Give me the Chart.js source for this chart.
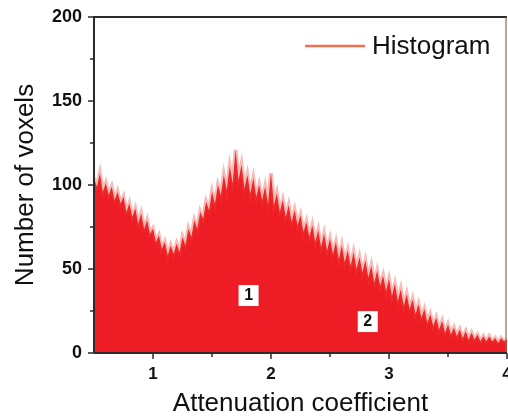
<!DOCTYPE html>
<html>
<head>
<meta charset="utf-8">
<script src="https://cdn.jsdelivr.net/npm/chart.js@4.4.1/dist/chart.umd.min.js"></script>
<style>
  html, body { margin: 0; padding: 0; background: #fff; }
  #wrap { width: 508px; height: 419px; }
</style>
</head>
<body>
<div id="wrap"><canvas id="hist"></canvas></div>
<script>
// attenuation coefficient bins (step 0.025) and voxel counts
const coeffStart = 0.5;
const coeffStep = 0.025;
const voxelCounts = [
  104, 99, 107, 96, 101, 94, 99, 91, 96, 89,
  93, 84, 89, 81, 86, 77, 83, 74, 79, 71,
  74, 66, 70, 62, 66, 58, 64, 59, 65, 60,
  69, 64, 74, 69, 79, 74, 84, 80, 90, 85,
  96, 89, 100, 94, 106, 97, 111, 101, 121, 103,
  112, 98, 106, 95, 104, 93, 100, 91, 99, 89,
  107, 88, 95, 84, 91, 81, 88, 78, 85, 76,
  82, 72, 78, 69, 76, 66, 73, 63, 71, 61,
  68, 59, 66, 56, 64, 54, 61, 52, 60, 50,
  57, 48, 55, 45, 52, 42, 49, 40, 46, 37,
  44, 34, 41, 31, 38, 28, 35, 26, 32, 23,
  29, 21, 26, 18, 23, 16, 21, 14, 19, 12,
  17, 11, 15, 10, 14, 9, 13, 8, 12, 8,
  11, 7, 10, 7, 10, 7, 9, 6, 9, 7,
  8
];
const xMajorTicks = [1, 2, 3, 4];
const xMinorTicks = [1.5, 2.5, 3.5];
const yMajorTicks = [0, 50, 100, 150, 200];
const yMinorTicks = [25, 75, 125, 175];
const regionLabels = ['1', '2'];
const regionX = [1.81, 2.82];
const regionY = [34.5, 19];
const legendText = 'Histogram';

const points = voxelCounts.map((v, i) => ({ x: coeffStart + i * coeffStep, y: v }));

const axisColor = '#2b2b2b';
const fontFamily = '"Liberation Sans", Arial, sans-serif';

const frameAndTicks = {
  id: 'frameAndTicks',
  afterDraw(chart) {
    const { ctx, chartArea: a, scales } = chart;
    ctx.save();
    ctx.strokeStyle = axisColor;
    ctx.lineWidth = 2;
    ctx.beginPath();
    ctx.moveTo(a.left, a.bottom);
    ctx.lineTo(a.left, a.top);
    ctx.lineTo(a.right, a.top);
    ctx.stroke();
    ctx.lineWidth = 1.2;
    ctx.strokeStyle = '#8a6a60';
    ctx.beginPath();
    ctx.moveTo(a.right - 1, a.top);
    ctx.lineTo(a.right - 1, a.bottom);
    ctx.stroke();
    ctx.strokeStyle = axisColor;
    ctx.lineWidth = 2;
    ctx.beginPath();
    ctx.moveTo(a.left, a.bottom);
    ctx.lineTo(a.right, a.bottom);
    ctx.stroke();

    ctx.lineWidth = 1.5;
    ctx.beginPath();
    xMajorTicks.forEach(v => {
      const px = scales.x.getPixelForValue(v);
      ctx.moveTo(px, a.bottom); ctx.lineTo(px, a.bottom + 6);
    });
    xMinorTicks.forEach(v => {
      const px = scales.x.getPixelForValue(v);
      ctx.moveTo(px, a.bottom); ctx.lineTo(px, a.bottom + 4);
    });
    yMajorTicks.forEach(v => {
      const py = scales.y.getPixelForValue(v);
      ctx.moveTo(a.left, py); ctx.lineTo(a.left - 6, py);
    });
    yMinorTicks.forEach(v => {
      const py = scales.y.getPixelForValue(v);
      ctx.moveTo(a.left, py); ctx.lineTo(a.left - 4, py);
    });
    ctx.stroke();

    // numbered region boxes
    ctx.font = 'bold 16px ' + fontFamily;
    ctx.textAlign = 'center';
    ctx.textBaseline = 'middle';
    regionLabels.forEach((t, i) => {
      const px = scales.x.getPixelForValue(regionX[i]);
      const py = scales.y.getPixelForValue(regionY[i]);
      ctx.fillStyle = '#ffffff';
      ctx.fillRect(px - 10, py - 10, 20, 21);
      ctx.fillStyle = '#111';
      ctx.fillText(t, px, py + 1);
    });

    // legend, inside the plot at the top right
    const ly = a.top + 29;
    ctx.strokeStyle = '#f4714f';
    ctx.lineWidth = 2.5;
    ctx.beginPath();
    ctx.moveTo(a.right - 202, ly);
    ctx.lineTo(a.right - 142, ly);
    ctx.stroke();
    ctx.font = '26px ' + fontFamily;
    ctx.fillStyle = '#111';
    ctx.textAlign = 'left';
    ctx.fillText(legendText, a.right - 135, ly + 1);
    ctx.restore();
  }
};

new Chart(document.getElementById('hist'), {
  type: 'line',
  data: {
    datasets: [{
      label: legendText,
      data: points,
      borderColor: 'rgba(238, 60, 50, 0.35)',
      borderWidth: 4,
      backgroundColor: '#ee1c24',
      fill: 'origin',
      pointRadius: 0,
      tension: 0
    }]
  },
  options: {
    responsive: true,
    maintainAspectRatio: false,
    animation: false,
    clip: false,
    layout: { padding: { left: 0, right: 1, top: 17, bottom: 0 } },
    plugins: {
      tooltip: { enabled: false },
      legend: { display: false }
    },
    scales: {
      x: {
        type: 'linear',
        min: 0.5,
        max: 4,
        afterBuildTicks: s => { s.ticks = xMajorTicks.map(v => ({ value: v })); },
        afterFit: s => { s.height = 66; s.paddingRight = 0; s.paddingLeft = 0; },
        grid: { display: false },
        border: { display: false },
        ticks: {
          padding: 3,
          color: '#111',
          font: { family: fontFamily, size: 17, weight: 'bold' }
        },
        title: {
          display: true,
          text: 'Attenuation coefficient',
          color: '#111',
          padding: { top: 0, bottom: 0 },
          font: { family: fontFamily, size: 26 }
        }
      },
      y: {
        min: 0,
        max: 200,
        afterBuildTicks: s => { s.ticks = yMajorTicks.map(v => ({ value: v })); },
        afterFit: s => { s.width = 94; s.paddingTop = 0; },
        grid: { display: false },
        border: { display: false },
        ticks: {
          padding: 4,
          color: '#111',
          font: { family: fontFamily, size: 18, weight: 'bold' }
        },
        title: {
          display: true,
          text: 'Number of voxels',
          color: '#111',
          padding: { top: 10, bottom: 0 },
          font: { family: fontFamily, size: 26 }
        }
      }
    }
  },
  plugins: [frameAndTicks]
});
</script>
</body>
</html>
